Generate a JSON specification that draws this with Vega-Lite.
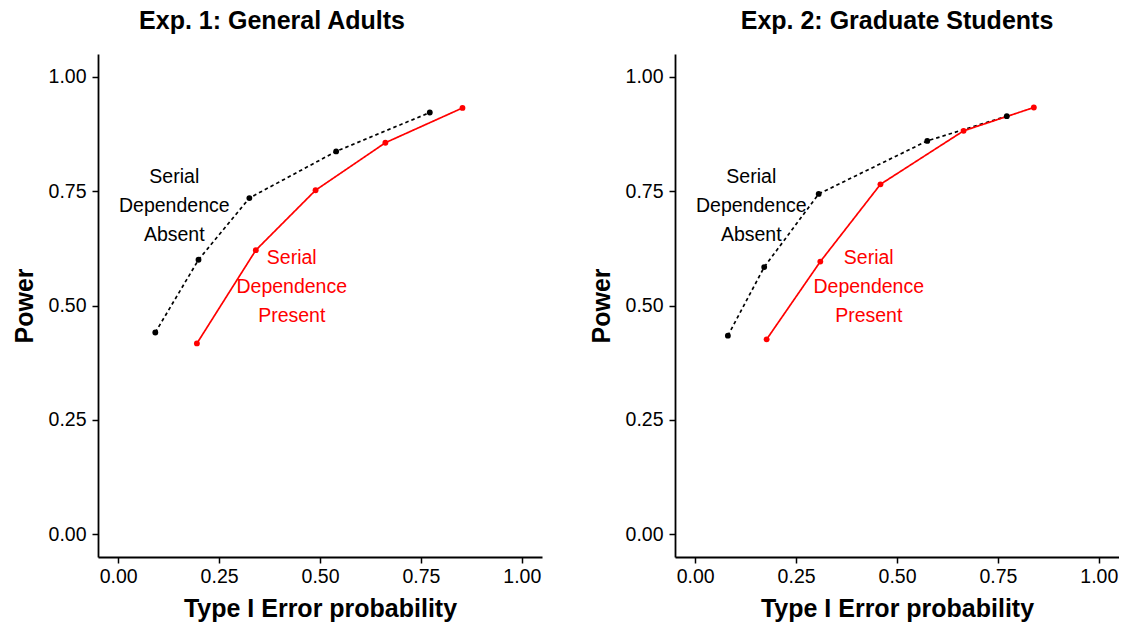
{
  "$schema": "https://vega.github.io/schema/vega-lite/v6.json",
  "padding": {"left": 12, "top": 9, "right": 0, "bottom": 0},
  "background": "white",
  "datasets": {
    "pts": [
      {"exp": "1", "cond": "Absent", "x": 0.092, "y": 0.441},
      {"exp": "1", "cond": "Absent", "x": 0.199, "y": 0.600},
      {"exp": "1", "cond": "Absent", "x": 0.325, "y": 0.735},
      {"exp": "1", "cond": "Absent", "x": 0.540, "y": 0.837},
      {"exp": "1", "cond": "Absent", "x": 0.772, "y": 0.922},
      {"exp": "1", "cond": "Present", "x": 0.195, "y": 0.417},
      {"exp": "1", "cond": "Present", "x": 0.341, "y": 0.621},
      {"exp": "1", "cond": "Present", "x": 0.489, "y": 0.752},
      {"exp": "1", "cond": "Present", "x": 0.662, "y": 0.856},
      {"exp": "1", "cond": "Present", "x": 0.853, "y": 0.932},
      {"exp": "2", "cond": "Absent", "x": 0.081, "y": 0.434},
      {"exp": "2", "cond": "Absent", "x": 0.171, "y": 0.584},
      {"exp": "2", "cond": "Absent", "x": 0.306, "y": 0.744},
      {"exp": "2", "cond": "Absent", "x": 0.575, "y": 0.860},
      {"exp": "2", "cond": "Absent", "x": 0.772, "y": 0.914},
      {"exp": "2", "cond": "Present", "x": 0.177, "y": 0.426},
      {"exp": "2", "cond": "Present", "x": 0.310, "y": 0.596},
      {"exp": "2", "cond": "Present", "x": 0.459, "y": 0.765},
      {"exp": "2", "cond": "Present", "x": 0.665, "y": 0.882},
      {"exp": "2", "cond": "Present", "x": 0.839, "y": 0.933}
    ],
    "labs": [
      {"exp": "1", "cond": "Absent", "x": 0.139, "y": 0.782, "label": "Serial\nDependence\nAbsent"},
      {"exp": "1", "cond": "Present", "x": 0.430, "y": 0.604, "label": "Serial\nDependence\nPresent"},
      {"exp": "2", "cond": "Absent", "x": 0.139, "y": 0.782, "label": "Serial\nDependence\nAbsent"},
      {"exp": "2", "cond": "Present", "x": 0.430, "y": 0.604, "label": "Serial\nDependence\nPresent"}
    ]
  },
  "spacing": 47,
  "hconcat": [
    {
      "width": 444,
      "height": 503,
      "title": {"text": "Exp. 1: General Adults", "dx": -48},
      "layer": [
        {
          "data": {"name": "pts"},
          "transform": [{"filter": "datum.exp == '1'"}],
          "mark": {"type": "line", "strokeWidth": 1.7},
          "encoding": {
            "x": {"field": "x", "type": "quantitative", "scale": {"domain": [-0.05, 1.05], "nice": false, "zero": false}, "axis": {"values": [0, 0.25, 0.5, 0.75, 1], "format": ".2f", "title": "Type I Error probability"}},
            "y": {"field": "y", "type": "quantitative", "scale": {"domain": [-0.05, 1.05], "nice": false, "zero": false}, "axis": {"values": [0, 0.25, 0.5, 0.75, 1], "format": ".2f", "title": "Power"}},
            "color": {"field": "cond", "type": "nominal", "scale": {"domain": ["Absent", "Present"], "range": ["#000000", "#FF0000"]}, "legend": null},
            "strokeDash": {"field": "cond", "type": "nominal", "scale": {"domain": ["Absent", "Present"], "range": [[3.5, 3], [1, 0]]}, "legend": null}
          }
        },
        {
          "data": {"name": "pts"},
          "transform": [{"filter": "datum.exp == '1'"}],
          "mark": {"type": "circle", "size": 34, "opacity": 1},
          "encoding": {
            "x": {"field": "x", "type": "quantitative"},
            "y": {"field": "y", "type": "quantitative"},
            "color": {"field": "cond", "type": "nominal", "scale": {"domain": ["Absent", "Present"], "range": ["#000000", "#FF0000"]}, "legend": null}
          }
        },
        {
          "data": {"name": "labs"},
          "transform": [{"filter": "datum.exp == '1'"}],
          "mark": {"type": "text", "fontSize": 19.5, "font": "Liberation Sans", "lineBreak": "\n", "lineHeight": 29, "align": "center", "baseline": "middle"},
          "encoding": {
            "x": {"field": "x", "type": "quantitative"},
            "y": {"field": "y", "type": "quantitative"},
            "text": {"field": "label", "type": "nominal"},
            "color": {"field": "cond", "type": "nominal", "scale": {"domain": ["Absent", "Present"], "range": ["#000000", "#FF0000"]}, "legend": null}
          }
        }
      ]
    },
    {
      "width": 444,
      "height": 503,
      "title": {"text": "Exp. 2: Graduate Students"},
      "layer": [
        {
          "data": {"name": "pts"},
          "transform": [{"filter": "datum.exp == '2'"}],
          "mark": {"type": "line", "strokeWidth": 1.7},
          "encoding": {
            "x": {"field": "x", "type": "quantitative", "scale": {"domain": [-0.05, 1.05], "nice": false, "zero": false}, "axis": {"values": [0, 0.25, 0.5, 0.75, 1], "format": ".2f", "title": "Type I Error probability"}},
            "y": {"field": "y", "type": "quantitative", "scale": {"domain": [-0.05, 1.05], "nice": false, "zero": false}, "axis": {"values": [0, 0.25, 0.5, 0.75, 1], "format": ".2f", "title": "Power"}},
            "color": {"field": "cond", "type": "nominal", "scale": {"domain": ["Absent", "Present"], "range": ["#000000", "#FF0000"]}, "legend": null},
            "strokeDash": {"field": "cond", "type": "nominal", "scale": {"domain": ["Absent", "Present"], "range": [[3.5, 3], [1, 0]]}, "legend": null}
          }
        },
        {
          "data": {"name": "pts"},
          "transform": [{"filter": "datum.exp == '2'"}],
          "mark": {"type": "circle", "size": 34, "opacity": 1},
          "encoding": {
            "x": {"field": "x", "type": "quantitative"},
            "y": {"field": "y", "type": "quantitative"},
            "color": {"field": "cond", "type": "nominal", "scale": {"domain": ["Absent", "Present"], "range": ["#000000", "#FF0000"]}, "legend": null}
          }
        },
        {
          "data": {"name": "labs"},
          "transform": [{"filter": "datum.exp == '2'"}],
          "mark": {"type": "text", "fontSize": 19.5, "font": "Liberation Sans", "lineBreak": "\n", "lineHeight": 29, "align": "center", "baseline": "middle"},
          "encoding": {
            "x": {"field": "x", "type": "quantitative"},
            "y": {"field": "y", "type": "quantitative"},
            "text": {"field": "label", "type": "nominal"},
            "color": {"field": "cond", "type": "nominal", "scale": {"domain": ["Absent", "Present"], "range": ["#000000", "#FF0000"]}, "legend": null}
          }
        }
      ]
    }
  ],
  "config": {
    "view": {"stroke": null},
    "font": "Liberation Sans",
    "title": {"font": "Liberation Sans", "fontSize": 25, "fontWeight": "bold", "color": "#000000", "anchor": "middle", "offset": 20},
    "axis": {
      "grid": false,
      "domainColor": "#000000",
      "domainWidth": 1.8,
      "tickColor": "#000000",
      "tickWidth": 1.5,
      "tickSize": 6,
      "labelFont": "Liberation Sans",
      "labelFontSize": 19.5,
      "labelColor": "#000000",
      "titleFont": "Liberation Sans",
      "titleFontSize": 25,
      "titleFontWeight": "bold",
      "titleColor": "#000000"
    },
    "axisX": {"labelPadding": 4, "titlePadding": 11},
    "axisY": {"labelPadding": 6, "titlePadding": 11}
  }
}
